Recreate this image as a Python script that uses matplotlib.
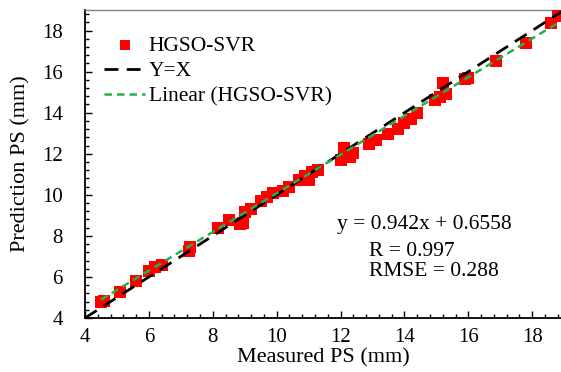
import matplotlib
matplotlib.use("Agg")
import matplotlib.pyplot as plt
import numpy as np
from matplotlib.ticker import MultipleLocator

plt.rcParams['font.family'] = ['Liberation Serif', 'DejaVu Serif']

measured = [4.5, 4.6, 5.1, 5.6, 6.0, 6.2, 6.4, 7.25, 7.3, 8.15, 8.5, 8.85, 8.95, 9.0, 9.2,
            9.5, 9.7, 9.9, 10.2, 10.4, 10.7, 10.9, 11.0, 11.1, 11.3, 12.0, 12.1, 12.3,
            12.4, 12.9, 13.1, 13.5, 13.8, 14.0, 14.2, 14.4, 14.95, 15.1, 15.2, 15.3,
            15.9, 16.0, 16.85, 17.8, 18.6, 18.8]
predicted = [4.8, 4.85, 5.26, 5.8, 6.3, 6.5, 6.6, 7.25, 7.45, 8.4, 8.75, 8.6, 8.65, 9.15, 9.3,
             9.7, 9.9, 10.1, 10.2, 10.4, 10.7, 10.9, 10.7, 11.1, 11.2, 11.7, 12.3, 11.85,
             12.05, 12.45, 12.65, 12.95, 13.2, 13.5, 13.7, 14.0, 14.6, 14.75, 15.45, 14.9,
             15.65, 15.7, 16.5, 17.4, 18.35, 18.7]
slope = 0.942
intercept = 0.6558
stats_lines = ["y = 0.942x + 0.6558", "R = 0.997", "RMSE = 0.288"]

fig = plt.figure(figsize=(5.61, 3.72), dpi=100)
ax = fig.add_axes([85/561, 54/372, 1 - 85/561, (318-10)/372])

ax.scatter(measured, predicted, marker='s', s=68, color='#ff0000', zorder=3, label='HGSO-SVR', linewidths=0)
xx = np.array([4, 19])
ax.plot(xx, xx, color='black', ls=(0, (5, 3)), lw=2, zorder=4, label='Y=X')
xf = np.array([4.5, 18.9])
ax.plot(xf, slope * xf + intercept, color='#22b14c', ls=(0, (3, 2)), lw=1.8, zorder=5, label='Linear (HGSO-SVR)')

ax.set_xlim(4, 18.9)
ax.set_ylim(4, 19)
ax.xaxis.set_major_locator(MultipleLocator(2))
ax.xaxis.set_minor_locator(MultipleLocator(0.4))
ax.yaxis.set_major_locator(MultipleLocator(2))
ax.yaxis.set_minor_locator(MultipleLocator(0.4))
ax.tick_params(which='both', direction='in', top=False, right=False, labelsize=15, width=1)
ax.tick_params(which='major', length=5)
ax.tick_params(which='minor', length=3)
ax.tick_params(axis='x', pad=7)
ax.tick_params(axis='y', pad=16)
for s in ['left', 'bottom']:
    ax.spines[s].set_linewidth(1.3)
    ax.spines[s].set_color('black')
ax.spines['top'].set_color('#808080')
ax.spines['top'].set_linewidth(1)
ax.spines['right'].set_visible(False)

ax.set_xlabel('Measured PS (mm)', fontsize=16, labelpad=1)
ax.set_ylabel('Prediction PS (mm)', fontsize=16, labelpad=8)

leg = ax.legend(loc='upper left', bbox_to_anchor=(0.0, 0.98), frameon=False, fontsize=15.5,
                handlelength=1.9, handletextpad=0.15, labelspacing=0.25, markerscale=0.9)

fig.text(337/561, 1 - 224/372, stats_lines[0], fontsize=15.5, va='center', ha='left')
fig.text(369/561, 1 - 251/372, stats_lines[1], fontsize=15.5, va='center', ha='left')
fig.text(369/561, 1 - 272/372, stats_lines[2], fontsize=15.5, va='center', ha='left')

fig.savefig('out.png', dpi=100)
